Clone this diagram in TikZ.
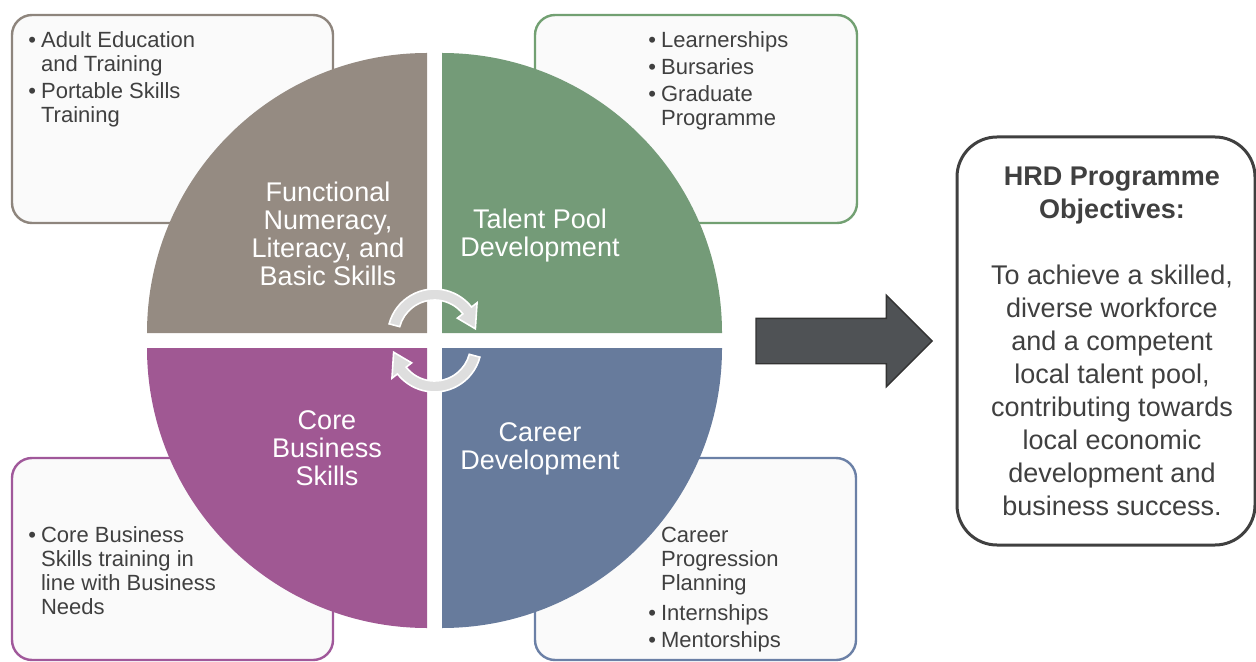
\documentclass[tikz,border=0pt]{standalone}
\usepackage{fontspec}
\setsansfont{Liberation Sans}
\usetikzlibrary{shapes, arrows, positioning, backgrounds}
\tikzset{every picture/.style={/utils/exec={\sffamily}}}
\definecolor{QuadGrey}{HTML}{958B82}
\definecolor{QuadGreen}{HTML}{749B78}
\definecolor{QuadPurple}{HTML}{A05893}
\definecolor{QuadBlue}{HTML}{677B9C}
\definecolor{LineGrey}{HTML}{8E857D}
\definecolor{LineGreen}{HTML}{72A072}
\definecolor{LinePurple}{HTML}{A0589A}
\definecolor{LineBlue}{HTML}{6B80A6}
\definecolor{TextGrey}{HTML}{404040}
\definecolor{ArrowGrey}{HTML}{4F5255}
\definecolor{CycleGrey}{HTML}{DEDEDE}

\begin{document}
\begin{tikzpicture}[x=0.5pt, y=-0.5pt,
			infobox/.style={draw,rectangle,rounded corners=10pt,line width=1.2pt,fill=white!98!black,inner sep=0pt},
			listtext/.style={anchor=base west,inner sep=0pt,text=TextGrey,font=\fontsize{11}{12}\selectfont},
			quadlabel/.style={align=center,inner sep=0pt,text=white,font=\fontsize{13.5}{14}\selectfont},
			cyclearrow/.style={fill=CycleGrey,draw=white,line width=0.8pt}
		]
			\useasboundingbox (0,0) rectangle (1256,662);

			\begin{scope}[on background layer]
				\node (adultbox) [infobox,draw=LineGrey,minimum width=160.5pt,minimum height=104pt] at (172.5,119) {};
				\node (talentbox) [infobox,draw=LineGreen,minimum width=161pt,minimum height=104pt] at (696,119) {};
				\node (corebox) [infobox,draw=LinePurple,minimum width=160.5pt,minimum height=101pt] at (172.5,559) {};
				\node (careerbox) [infobox,draw=LineBlue,minimum width=160.5pt,minimum height=101pt] at (695.5,559) {};

				\node (adulttext) [listtext] at (28,48)
				{\begin{tabular}[t]{@{}l@{\hspace{2.5pt}}l@{}}
					\textbullet & Adult Education\\
					& and Training\\[1.5pt]
					\textbullet & Portable Skills\\
					& Training
				\end{tabular}};
				\node (talenttext) [listtext] at (648,48)
				{\begin{tabular}[t]{@{}l@{\hspace{2.5pt}}l@{}}
					\textbullet & Learnerships\\[1.5pt]
					\textbullet & Bursaries\\[1.5pt]
					\textbullet & Graduate\\
					& Programme
				\end{tabular}};
				\node (coretext) [listtext] at (28,542)
				{\begin{tabular}[t]{@{}l@{\hspace{2.5pt}}l@{}}
					\textbullet & Core Business\\
					& Skills training in\\
					& line with Business\\
					& Needs
				\end{tabular}};
				\node (careertext) [listtext] at (648,542)
				{\begin{tabular}[t]{@{}l@{\hspace{2.5pt}}l@{}}
					\phantom{\textbullet} & Career\\
					& Progression\\
					& Planning\\[3pt]
					\textbullet & Internships\\[1.5pt]
					\textbullet & Mentorships
				\end{tabular}};
			\end{scope}

			% quarter circles
			\fill[QuadGrey] (427,333) -- (147,333) arc[start angle=180,end angle=270,radius=280] -- cycle;
			\fill[QuadGreen] (442,333) -- (442,53) arc[start angle=270,end angle=360,radius=280] -- cycle;
			\fill[QuadBlue] (442,348) -- (722,348) arc[start angle=0,end angle=90,radius=280] -- cycle;
			\fill[QuadPurple] (427,348) -- (427,628) arc[start angle=90,end angle=180,radius=280] -- cycle;

			\node (functional) [quadlabel] at (328,234) {Functional\\Numeracy,\\Literacy, and\\Basic Skills};
			\node (talentpool) [quadlabel] at (540,236) {Talent Pool\\Development};
			\node (corebusiness) [quadlabel] at (327,448) {Core\\Business\\Skills};
			\node (careerdev) [quadlabel] at (540,449) {Career\\Development};

			\foreach \a in {0,180}
			{
				\begin{scope}[shift={(434.5,340.5)},rotate=\a,shift={(0,-4.5)}]
					\filldraw[cyclearrow] (195:47) arc[start angle=195,end angle=322,radius=47] -- (322:54) -- (350:41.5) -- (322:29) -- (322:36) arc[start angle=322,end angle=195,radius=36] -- cycle;
				\end{scope}
			}

			\node (flowarrow) [single arrow,anchor=tip,fill=ArrowGrey,draw=black!80,line width=0.7pt,minimum height=88pt,minimum width=0pt,inner xsep=0pt,inner ysep=11pt,single arrow head extend=11.5pt] at (933,341) {};

			\node (objbox) [draw=black!75,rectangle,rounded corners=20pt,line width=1.5pt,fill=white,minimum width=149pt,minimum height=204pt] at (1106,341) {};
			\node (objtext) [align=center,inner sep=0pt,text=TextGrey,font=\fontsize{13.5}{16.5}\selectfont] at (1112,341)
			{\textbf{HRD Programme}\\
				\textbf{Objectives:}\\[16.5pt]
				To achieve a skilled,\\
				diverse workforce\\
				and a competent\\
				local talent pool,\\
				contributing towards\\
				local economic\\
				development and\\
				business success.};
		\end{tikzpicture}
\end{document}
